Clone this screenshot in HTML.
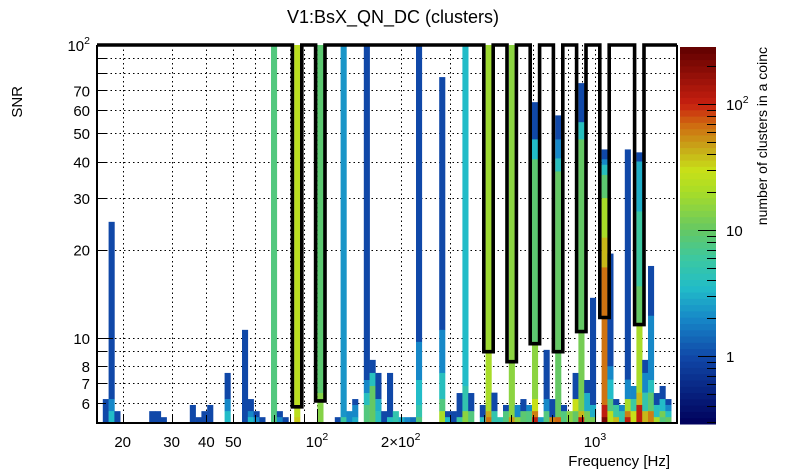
<!DOCTYPE html>
<html><head><meta charset="utf-8"><style>
body{margin:0;background:#fff;}
svg{display:block;font-family:"Liberation Sans",sans-serif;}
</style></head><body>
<svg id="c" width="805" height="472"></svg>
<script>
// ---- data ----
const xTickValues=[20,30,40,50,100,200,1000];
const xTickLabels=["20","30","40","50","10^2","2\u00d710^2","10^3"];
const yTickValues=[6,7,8,10,20,30,40,50,60,70,100];
const yTickLabels=["6","7","8","10","20","30","40","50","60","70","10^2"];
const zTickValues=[1,10,100];
const zTickLabels=["1","10","10^2"];
// cells: [frequency Hz, snr low, snr high, number of clusters]
const cells=[
[17.3,5.12,6.18,1],
[18.0,6.18,24.9,1],[18.0,5.62,6.18,2],[18.0,5.12,5.62,3.5],
[18.8,5.12,5.62,1],
[25.5,5.12,5.62,1],[26.8,5.12,5.62,1],[27.9,5.12,5.36,1],
[35.5,5.12,5.9,1],[37.3,5.12,5.36,1],[39.2,5.12,5.62,1],[40.9,5.12,5.9,1],
[48.3,6.18,7.59,1],[48.3,5.62,6.18,2],[48.3,5.12,5.62,3.5],
[54.6,5.12,10.65,1],
[56.9,5.62,6.18,1],[56.9,5.36,5.62,2],[56.9,5.12,5.36,3.5],
[59.8,5.36,5.62,1],[59.8,5.12,5.36,2],[62.4,5.12,5.36,1],
[69.5,5.12,100,8],
[73.0,5.36,5.62,1],[73.0,5.12,5.36,2],[76.7,5.12,5.36,1],
[84.0,5.36,100,25],[84.0,5.12,5.36,35],
[101.7,6.48,100,9],[101.7,5.12,6.48,14],
[118,5.12,5.36,1],
[124,5.36,100,2.3],[124,5.12,5.36,6],
[129,5.12,5.62,2],
[140,5.9,6.18,1],[140,5.36,5.9,2],[140,5.12,5.36,3],
[150,7.18,100,1],[150,6.48,7.18,2],[150,5.9,6.48,4],[150,5.12,5.9,8],
[156,7.59,8.41,1],[156,6.85,7.59,4],[156,5.12,6.85,10],
[164,6.18,7.59,1],[164,5.62,6.18,3],[164,5.12,5.62,4],
[173,5.12,5.62,1],
[182,5.36,7.59,1],[182,5.12,5.36,4],
[189,5.12,5.62,5],[199,5.12,5.36,3],[209,5.12,5.36,2],[220,5.12,5.36,1.5],
[231,9.69,100,1],[231,7.18,9.69,2],[231,5.9,7.18,3.5],[231,5.36,5.9,5],[231,5.12,5.36,8],
[279,10.65,77.7,1],[279,7.59,10.65,2],[279,6.18,7.59,4],[279,5.62,6.18,8],[279,5.12,5.62,20],
[291,5.36,5.62,1],[291,5.12,5.36,3.5],
[306,5.12,5.62,1],
[321,5.36,6.48,1],[321,5.12,5.36,6],
[338,6.85,100,3.5],[338,5.62,6.85,5],[338,5.12,5.62,15],
[352,5.62,6.48,1],[352,5.12,5.62,8],
[389,5.36,5.9,1],[389,5.12,5.36,4],
[409,9.1,100,18],[409,5.62,9.1,20],[409,5.36,5.62,45],[409,5.12,5.36,65],
[426,5.62,6.5,1],[426,5.12,5.62,5],
[448,5.12,5.36,5],
[471,5.62,5.9,1],[471,5.12,5.62,8],
[494,5.36,100,15],[494,5.12,5.36,50],
[520,5.36,5.9,2],[520,5.12,5.36,15],
[546,5.62,6.18,1],[546,5.12,5.62,9],
[569,5.62,5.9,2],[569,5.12,5.62,8],
[603,47.6,63.8,1],[603,40.7,47.6,3.5],[603,9.69,40.7,9],[603,6.18,9.69,15],[603,5.62,6.18,30],[603,5.36,5.62,60],[603,5.12,5.36,110],
[634,5.12,5.36,2.5],
[661,6.18,9.1,1],[661,5.62,6.18,2],[661,5.12,5.62,8],
[695,5.36,6.18,1],[695,5.12,5.36,60],
[730,47.6,57.5,1],[730,41,47.6,2],[730,37,41,4],[730,5.36,37,10],[730,5.12,5.36,70],
[767,5.62,5.9,1],[767,5.12,5.62,8],
[806,5.12,5.62,15],
[840,6.18,7.59,1],[840,5.62,6.18,30],[840,5.12,5.62,10],
[883,54.5,74.1,1],[883,47.6,54.5,4],[883,10.65,47.6,10],[883,5.62,10.65,12],[883,5.36,5.62,40],[883,5.12,5.36,110],
[928,6.48,7.18,1],[928,5.62,6.48,3],[928,5.12,5.62,12],
[975,5.9,13.7,1],[975,5.36,5.9,3],[975,5.12,5.36,12],
[1069,40.7,44,1],[1069,39,40.7,2],[1069,36,39,4],[1069,30,36,9],[1069,22,30,20],[1069,17.4,22,40],[1069,5.9,17.4,65],[1069,5.36,5.9,110],[1069,5.12,5.36,220],
[1122,8.0,19.4,1],[1122,7.2,8.0,2],[1122,6.18,7.2,3.5],[1122,5.62,6.18,8],[1122,5.12,5.62,25],
[1180,5.9,6.18,1],[1180,5.36,5.9,6],[1180,5.12,5.36,40],
[1230,5.62,5.9,2],[1230,5.12,5.62,5],
[1293,7.2,44,1],[1293,6.18,7.2,2],[1293,5.62,6.18,20],[1293,5.36,5.62,60],[1293,5.12,5.36,110],
[1359,6.18,6.85,2],[1359,5.62,6.18,6],[1359,5.12,5.62,30],
[1428,40,43,1],[1428,27,40,3],[1428,15,27,6],[1428,11.26,15,10],[1428,6.5,11.26,20],[1428,5.9,6.5,40],[1428,5.12,5.9,110],
[1500,7.59,8.41,1],[1500,6.5,7.59,2],[1500,5.62,6.5,5],[1500,5.12,5.62,40],
[1578,11.9,17.6,1],[1578,7.18,11.9,2],[1578,6.5,7.18,4],[1578,5.62,6.5,9],[1578,5.12,5.62,60],
[1644,5.9,6.48,1],[1644,5.36,5.9,4],[1644,5.12,5.36,20],
[1727,6.18,6.85,1],[1727,5.62,6.18,3.5],[1727,5.36,5.62,12],[1727,5.12,5.36,8],
[1815,5.9,6.18,1],[1815,5.62,5.9,2],[1815,5.36,5.62,4],[1815,5.12,5.36,10]
];
// coincidence outline dips
const dipFreq=[84.0,101.7,409,494,603,730,883,1069,1428];
const dipSnr=[5.9,6.18,9.1,8.41,9.69,9.1,10.65,11.9,11.26];

// ---- scales ----
const X0=97,X1=677,Y0=45,Y1=423;
const LXMIN=1.2086,LXMAX=3.295,NB=100;
const LYMIN=Math.log10(5.12),LYMAX=2;
const ZMIN=0.29,ZMAX=283;
const bw=(X1-X0)/NB;
function xs(f){return X0+(Math.log10(f)-LXMIN)/(LXMAX-LXMIN)*(X1-X0);}
function binLeft(f){const i=Math.floor((Math.log10(f)-LXMIN)/(LXMAX-LXMIN)*NB);return X0+i*bw;}
function ys(s){return Y1-(Math.log10(s)-LYMIN)/(LYMAX-LYMIN)*(Y1-Y0);}
const CB0=47,CB1=424;
function zs(z){return CB1-(Math.log10(z)-Math.log10(ZMIN))/(Math.log10(ZMAX)-Math.log10(ZMIN))*(CB1-CB0);}
const stops=[[0.29,[0,0,90]],[1,[16,72,168]],[2,[22,136,200]],[3.5,[34,188,200]],[6,[60,200,160]],[10,[100,200,100]],[20,[168,220,40]],[30,[200,224,24]],[45,[200,168,24]],[70,[208,104,16]],[100,[200,32,16]],[283,[96,0,0]]];
function cmap(z){
  const l=Math.log10(Math.max(ZMIN,Math.min(ZMAX,z)));
  for(let i=0;i<stops.length-1;i++){
    const a=Math.log10(stops[i][0]),b=Math.log10(stops[i+1][0]);
    if(l<=b){const t=(l-a)/(b-a);const c=stops[i][1].map((v,k)=>Math.round(v+(stops[i+1][1][k]-v)*t));return `rgb(${c})`;}
  }
  return 'rgb(96,0,0)';
}
const NS='http://www.w3.org/2000/svg';
const svg=document.getElementById('c');
function mk(tag,attrs,parent){const e=document.createElementNS(NS,tag);for(const k in attrs)e.setAttribute(k,attrs[k]);(parent||svg).appendChild(e);return e;}
function supText(parent,x,y,label,anchor,size){
  const t=mk('text',{x:x,y:y,'text-anchor':anchor,'font-size':size},parent);
  const p=label.split('^');
  t.appendChild(document.createTextNode(p[0]));
  if(p[1]){const s=mk('tspan',{dy:-7,'font-size':size*0.7},t);s.textContent=p[1];}
  return t;
}

// grid
const grid=mk('g',{stroke:'#000','stroke-width':1,'stroke-dasharray':'1.5,3'});


for(const d of [10,100,1000])for(let m=1;m<10;m++){const f=d*m;if(f<17||f>1972)continue;const x=Math.round(xs(f))+0.5;mk('line',{x1:x,x2:x,y1:Y0,y2:Y1},grid);}
for(const d of [1,10])for(let m=1;m<10;m++){const s=d*m;if(s<5.2||s>=100)continue;const y=Math.round(ys(s))+0.5;mk('line',{x1:X0,x2:X1,y1:y,y2:y},grid);}

// cells
const cg=mk('g',{});


for(const c of cells){
  const x=binLeft(c[0]);const yt=ys(c[2]),yb=ys(c[1]);
  const r=mk('rect',{x:x.toFixed(2),y:yt.toFixed(2),width:(bw+0.3).toFixed(2),height:(yb-yt+0.3).toFixed(2),fill:cmap(c[3])},cg);
  
  
}

// outline
let d=`M${X0},${Y0}`;
dipFreq.forEach((f,i)=>{const l=binLeft(f)-1.8,r=binLeft(f)+bw+1.8,yb=ys(dipSnr[i])+1.8;d+=` L${l.toFixed(1)},${Y0} L${l.toFixed(1)},${yb.toFixed(1)} L${r.toFixed(1)},${yb.toFixed(1)} L${r.toFixed(1)},${Y0}`;});
d+=` L${X1},${Y0}`;
const ol=mk('path',{d:d,fill:'none',stroke:'#000','stroke-width':3.6,'stroke-linejoin':'miter'});



// frame
const fr=mk('path',{d:`M${X0},${Y0} L${X0},${Y1} L${X1},${Y1} L${X1},${Y0}`,fill:'none',stroke:'#000','stroke-width':2});



// axis ticks
const ax=mk('g',{stroke:'#000','stroke-width':1});


for(const dd of [10,100,1000])for(let m=1;m<10;m++){const f=dd*m;if(f<17||f>1972)continue;const x=Math.round(xs(f))+0.5;const L=(m==1)?14:8;mk('line',{x1:x,x2:x,y1:Y1,y2:Y1-L},ax);}
for(const dd of [1,10])for(let m=1;m<10;m++){const s=dd*m;if(s<5.2||s>100)continue;const y=Math.round(ys(s))+0.5;const L=(m==1)?16:9;mk('line',{x1:X0,x2:X0+L,y1:y,y2:y},ax);}

// tick labels
const xl=mk('g',{});


xTickValues.forEach((v,i)=>supText(xl,xs(v),447,xTickLabels[i],'middle',15));
const yl=mk('g',{});


yTickValues.forEach((v,i)=>supText(yl,90,ys(v)+6,yTickLabels[i],'end',15));

// titles
const tt=mk('text',{x:393,y:23,'text-anchor':'middle','font-size':18});tt.textContent='V1:BsX_QN_DC (clusters)';

const xt=mk('text',{x:670,y:466,'text-anchor':'end','font-size':15});xt.textContent='Frequency [Hz]';

const yt=mk('text',{x:0,y:0,'text-anchor':'end','font-size':15,transform:'translate(22,86) rotate(-90)'});yt.textContent='SNR';


// colorbar
const cb=mk('g',{});


const NSTEP=60;
for(let i=0;i<NSTEP;i++){
  const l0=Math.log10(ZMIN)+(Math.log10(ZMAX)-Math.log10(ZMIN))*i/NSTEP;
  const l1=Math.log10(ZMIN)+(Math.log10(ZMAX)-Math.log10(ZMIN))*(i+1)/NSTEP;
  const ya=zs(10**l1),yb=zs(10**l0);
  mk('rect',{x:680,y:ya.toFixed(2),width:36,height:(yb-ya+0.5).toFixed(2),fill:cmap(10**((l0+l1)/2))},cb);
}
const ct=mk('g',{stroke:'#000','stroke-width':1},cb);
for(const dd of [0.1,1,10,100])for(let m=1;m<10;m++){const z=dd*m;if(z<ZMIN||z>ZMAX)continue;const y=Math.round(zs(z))+0.5;const L=(m==1)?18:9;mk('line',{x1:716,x2:716-L,y1:y,y2:y},ct);}
zTickValues.forEach((v,i)=>supText(cb,726,zs(v)+6,zTickLabels[i],'start',15));
const zt=mk('text',{x:0,y:0,'text-anchor':'end','font-size':14,transform:'translate(767,47) rotate(-90)'});zt.textContent='number of clusters in a coinc';

</script>
</body></html>
